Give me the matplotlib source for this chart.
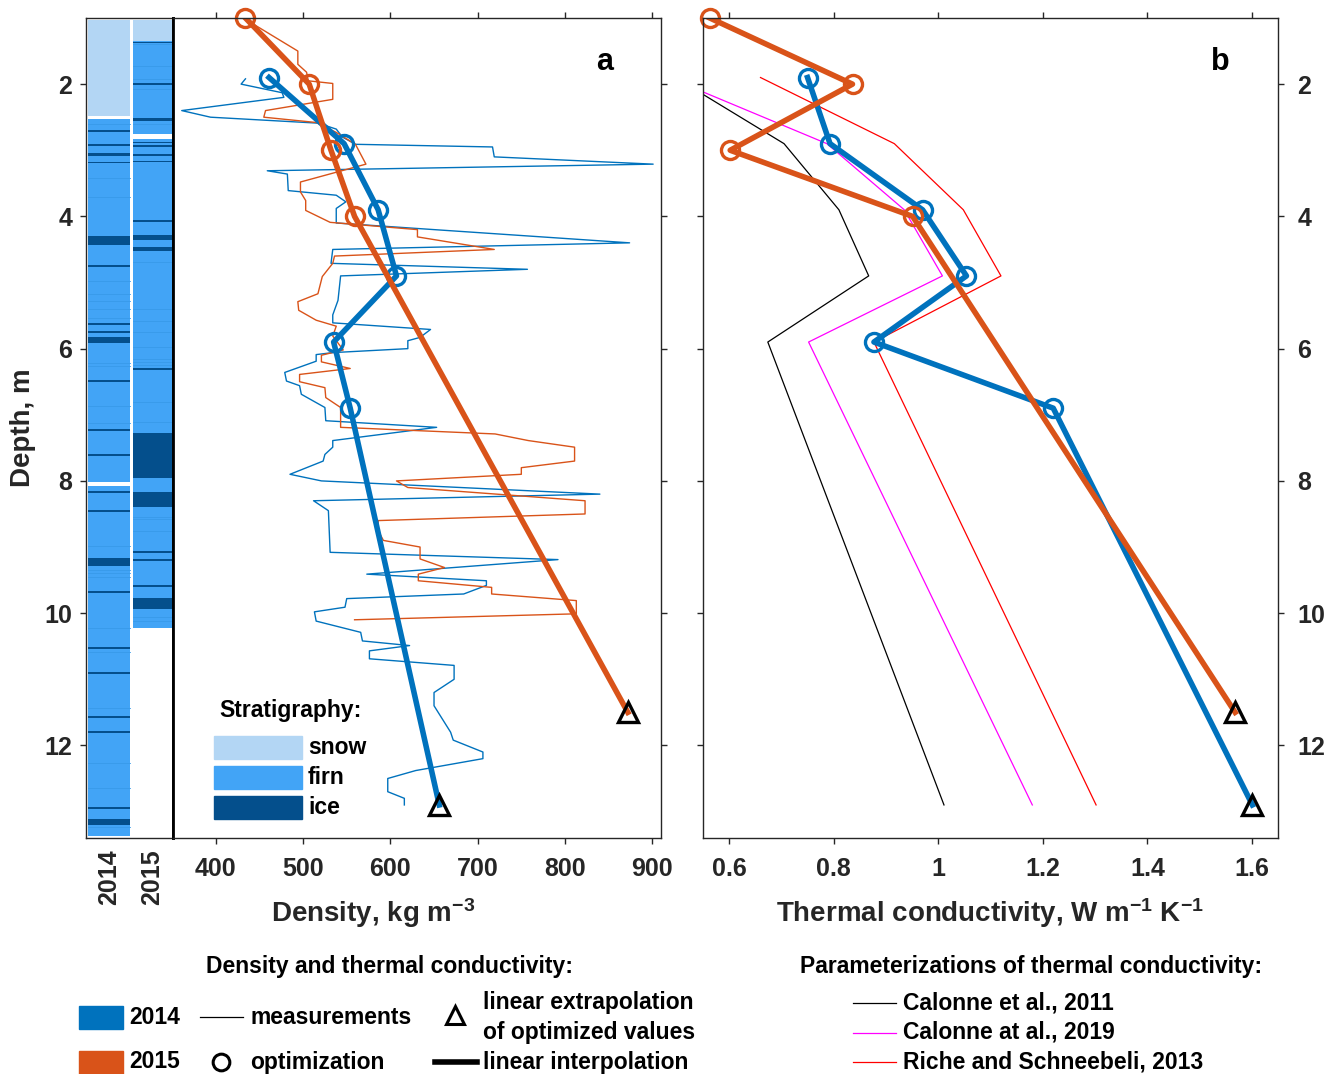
import matplotlib
matplotlib.use('Agg')
import matplotlib.pyplot as plt
from matplotlib.lines import Line2D
from matplotlib.patches import Rectangle

plt.rcParams['font.family'] = ['Liberation Sans', 'DejaVu Sans']
plt.rcParams['font.weight'] = 'bold'
plt.rcParams['axes.labelweight'] = 'bold'
plt.rcParams['mathtext.fontset'] = 'custom'
plt.rcParams['mathtext.rm'] = 'Liberation Sans:bold'
plt.rcParams['mathtext.bf'] = 'Liberation Sans:bold'
plt.rcParams['mathtext.default'] = 'rm'

W, H = 1330, 1074
BLUE = '#0072BD'
ORANGE = '#D95319'
GREY = '#262626'
SNOW_C = '#b3d6f4'
FIRN_C = '#42a4f6'
ICE_C = '#044f8c'
LINE_C = '#389ae9'

# ---- density measurements (depth m, kg m-3) ----
meas14_z = [1.92, 2.00, 2.13, 2.20, 2.40, 2.50, 2.59, 2.68, 2.80, 2.91, 2.95, 3.10, 3.21, 3.31,
            3.36, 3.61, 3.68, 3.78, 3.88, 4.10, 4.40, 4.50, 4.71, 4.80, 4.90, 5.27, 5.49, 5.61,
            5.71, 5.83, 5.88, 6.00, 6.06, 6.09, 6.19, 6.36, 6.49, 6.56, 6.69, 6.89, 7.09, 7.19,
            7.39, 7.49, 7.60, 7.70, 7.90, 8.00, 8.20, 8.30, 8.45, 9.08, 9.19, 9.41, 9.51, 9.58,
            9.71, 9.78, 9.91, 9.98, 10.12, 10.29, 10.42, 10.49, 10.57, 10.69, 10.79, 11.00,
            11.20, 11.40, 11.80, 11.92, 12.10, 12.20, 12.38, 12.50, 12.70, 12.80, 12.90]
meas14_rho = [434, 429, 476, 478, 361, 394, 517, 538, 545, 560, 717, 719, 901, 459,
              482, 483, 538, 549, 538, 538, 874, 534, 532, 757, 543, 540, 534, 534,
              646, 634, 620, 620, 534, 515, 515, 479, 481, 496, 498, 525, 526, 653,
              534, 534, 525, 523, 485, 521, 840, 512, 529, 531, 792, 573, 710, 710,
              684, 550, 548, 513, 515, 566, 568, 622, 576, 576, 673, 673,
              650, 650, 669, 672, 706, 706, 629, 597, 597, 616, 616]

meas15_z = [1.02, 1.50, 1.70, 1.82, 1.95, 1.99, 2.23, 2.40, 2.50, 2.58, 2.73, 2.91, 3.21, 3.48,
            3.63, 3.76, 3.91, 4.09, 4.20, 4.31, 4.50, 4.60, 4.71, 4.91, 5.17, 5.29, 5.42, 5.57,
            5.66, 5.81, 6.02, 6.10, 6.20, 6.30, 6.39, 6.50, 6.59, 6.74, 6.89, 7.19, 7.29, 7.39,
            7.49, 7.70, 7.80, 7.90, 8.00, 8.10, 8.30, 8.50, 8.60, 8.75, 8.90, 9.00, 9.18, 9.31,
            9.41, 9.51, 9.61, 9.71, 9.81, 10.01, 10.10]
meas15_rho = [434, 494, 494, 504, 506, 534, 534, 457, 455, 515, 538, 560, 572, 497,
              497, 503, 503, 531, 631, 631, 719, 536, 534, 522, 517, 494, 495, 515,
              538, 534, 546, 521, 521, 554, 496, 496, 525, 526, 543, 543, 720, 758,
              811, 811, 750, 750, 607, 620, 823, 823, 586, 586, 592, 634, 634, 662,
              632, 632, 716, 716, 813, 813, 559]

# ---- optimized values and linear extrapolation ----
opt14_z = [1.9, 2.9, 3.9, 4.9, 5.9, 6.9]
opt14_rho = [461, 547, 586, 607, 535, 554]
opt14_k = [0.750, 0.793, 0.970, 1.054, 0.877, 1.220]
ext14_z = 12.9
ext14_rho = 656
ext14_k = 1.601

opt15_z = [1.0, 2.0, 3.0, 4.0]
opt15_rho = [434, 507, 532, 559]
opt15_k = [0.563, 0.836, 0.602, 0.951]
ext15_z = 11.5
ext15_rho = 872
ext15_k = 1.568

# ---- parameterizations of thermal conductivity ----
param_z = [1.9, 2.9, 3.9, 4.9, 5.9, 12.9]
calonne2011 = [0.497, 0.705, 0.810, 0.867, 0.674, 1.011]
calonne2019 = [0.484, 0.787, 0.935, 1.008, 0.752, 1.180]
riche2013 = [0.660, 0.916, 1.048, 1.120, 0.877, 1.302]

# ---- stratigraphy (top, bottom depth in m) ----
col14_range = (1.03, 13.37)
snow14 = [(1.03, 2.48)]
ice14 = [(2.70, 2.73), (2.91, 2.94), (3.04, 3.08), (3.17, 3.20), (4.30, 4.44), (4.74, 4.77),
         (5.61, 5.63), (5.73, 5.76), (5.83, 5.91), (6.48, 6.51), (7.21, 7.24), (7.60, 7.62),
         (8.16, 8.19), (8.44, 8.47), (9.16, 9.28), (9.66, 9.69), (10.51, 10.54), (10.89, 10.92),
         (11.55, 11.58), (11.78, 11.81), (12.93, 12.96), (13.12, 13.20)]
gaps14 = [(2.48, 2.53), (8.02, 8.07)]
bounds14 = [2.60, 3.42, 3.70, 4.98, 5.18, 5.28, 5.40, 5.53, 6.21, 6.26, 6.87, 7.12, 8.99,
            9.35, 9.40, 9.45, 10.23, 10.58, 11.43, 12.26, 12.64, 13.24]

col15_range = (1.03, 10.23)
snow15 = [(1.03, 1.35)]
ice15 = [(1.36, 1.38), (1.99, 2.01), (2.51, 2.55), (2.87, 2.89), (2.92, 2.94), (3.06, 3.08),
         (3.16, 3.18), (4.06, 4.08), (4.28, 4.36), (4.47, 4.53), (6.30, 6.32), (7.27, 7.95),
         (8.17, 8.40), (9.06, 9.08), (9.18, 9.20), (9.58, 9.60), (9.77, 9.94)]
gaps15 = [(2.76, 2.83)]
bounds15 = [1.39, 1.72, 1.92, 2.08, 2.61, 4.69, 5.40, 5.58, 5.75, 5.98, 6.16, 6.20, 6.25,
            6.81, 7.11, 8.54, 8.58, 8.76, 10.06, 10.12]

depth_ticks = [2, 4, 6, 8, 10, 12]
rho_ticks = [400, 500, 600, 700, 800, 900]
k_ticks = [0.6, 0.8, 1.0, 1.2, 1.4, 1.6]
k_ticklabels = ['0.6', '0.8', '1', '1.2', '1.4', '1.6']
years = ['2014', '2015']


def fx(px):
    return px / W


def fy(py):
    return 1 - py / H


def style_axes(ax):
    for sp in ax.spines.values():
        sp.set_color(GREY)
        sp.set_linewidth(1.0)
    ax.tick_params(direction='out', length=4, width=1.0, color=GREY,
                   labelcolor=GREY, labelsize=18, pad=10)


fig = plt.figure(figsize=(W / 100, H / 100), dpi=100, facecolor='w')

top_px, bot_px = 18, 838
ax_s = fig.add_axes([fx(86), fy(bot_px), 87 / W, (bot_px - top_px) / H])
ax_a = fig.add_axes([fx(173), fy(bot_px), 488 / W, (bot_px - top_px) / H])
ax_b = fig.add_axes([fx(703), fy(bot_px), 575 / W, (bot_px - top_px) / H])

# ---------------- stratigraphy columns ----------------
style_axes(ax_s)
columns = [(0.05, 0.96, col14_range, snow14, ice14, gaps14, bounds14),
           (1.08, 0.90, col15_range, snow15, ice15, gaps15, bounds15)]
for x0, w, (c_top, c_bot), snow, ice, gaps, bounds in columns:
    ax_s.add_patch(Rectangle((x0, c_top), w, c_bot - c_top, color=FIRN_C, lw=0))
    for b in bounds:
        ax_s.plot([x0, x0 + w], [b, b], color=LINE_C, lw=0.6)
    for t, b in snow:
        ax_s.add_patch(Rectangle((x0, t), w, b - t, color=SNOW_C, lw=0))
    for t, b in ice:
        ax_s.add_patch(Rectangle((x0, t), w, max(b - t, 0.025), color=ICE_C, lw=0))
    for t, b in gaps:
        ax_s.add_patch(Rectangle((x0, t), w, b - t, color='w', lw=0))
ax_s.set_xlim(0, 2)
ax_s.set_ylim(13.4, 1.0)
ax_s.set_yticks(depth_ticks)
ax_s.tick_params(axis='y', pad=6)
ax_s.set_xticks([0.53, 1.53])
ax_s.set_xticklabels(years, rotation=90)
ax_s.tick_params(axis='x', length=0, pad=8)
ax_s.spines['right'].set_color('k')
ax_s.spines['right'].set_linewidth(2.0)
ax_s.set_ylabel('Depth, m', fontsize=20, color=GREY, labelpad=6)

# ---------------- panel a: density ----------------
style_axes(ax_a)
ax_a.plot(meas14_rho, meas14_z, color=BLUE, lw=1.0)
ax_a.plot(meas15_rho, meas15_z, color=ORANGE, lw=1.0)
ax_a.plot(opt14_rho + [ext14_rho], opt14_z + [ext14_z], color=BLUE, lw=4)
ax_a.plot(opt14_rho, opt14_z, 'o', mfc='none', mec=BLUE, ms=13, mew=2.4, clip_on=False)
ax_a.plot(opt15_rho + [ext15_rho], opt15_z + [ext15_z], color=ORANGE, lw=4)
ax_a.plot(opt15_rho, opt15_z, 'o', mfc='none', mec=ORANGE, ms=13, mew=2.4, clip_on=False)
ax_a.plot([ext14_rho, ext15_rho], [ext14_z, ext15_z], '^', mfc='none', mec='k',
          ms=14, mew=2.4, ls='none', clip_on=False)
ax_a.set_xlim(351, 910)
ax_a.set_ylim(13.4, 1.0)
ax_a.set_xticks(rho_ticks)
ax_a.set_yticks(depth_ticks)
ax_a.tick_params(top=True, right=True, left=False, labelleft=False)
ax_a.spines['left'].set_color('k')
ax_a.spines['left'].set_linewidth(2.0)
fig.text(fx(605), fy(62), 'a', fontsize=22, ha='center', va='center')

# stratigraphy legend
fig.text(fx(219), fy(711), 'Stratigraphy:', fontsize=16.5, va='center', ha='left')
for i, (lab, c) in enumerate([('snow', SNOW_C), ('firn', FIRN_C), ('ice', ICE_C)]):
    yc = 747 + 30 * i
    fig.patches.append(Rectangle((fx(214), fy(yc + 11.5)), 88 / W, 23 / H, color=c,
                                 transform=fig.transFigure, figure=fig))
    fig.text(fx(308), fy(yc), lab, fontsize=16.5, va='center', ha='left')

# ---------------- panel b: thermal conductivity ----------------
style_axes(ax_b)
ax_b.plot(calonne2011, param_z, color='k', lw=0.9)
ax_b.plot(calonne2019, param_z, color='#ff00ff', lw=0.9)
ax_b.plot(riche2013, param_z, color='#ff0000', lw=0.9)
ax_b.plot(opt14_k + [ext14_k], opt14_z + [ext14_z], color=BLUE, lw=4)
ax_b.plot(opt14_k, opt14_z, 'o', mfc='none', mec=BLUE, ms=13, mew=2.4, clip_on=False)
ax_b.plot(opt15_k + [ext15_k], opt15_z + [ext15_z], color=ORANGE, lw=4)
ax_b.plot(opt15_k, opt15_z, 'o', mfc='none', mec=ORANGE, ms=13, mew=2.4, clip_on=False)
ax_b.plot([ext14_k, ext15_k], [ext14_z, ext15_z], '^', mfc='none', mec='k',
          ms=14, mew=2.4, ls='none', clip_on=False)
ax_b.set_xlim(0.55, 1.65)
ax_b.set_ylim(13.4, 1.0)
ax_b.set_xticks(k_ticks)
ax_b.set_xticklabels(k_ticklabels)
ax_b.set_yticks(depth_ticks)
ax_b.tick_params(top=True, right=True, left=True, labelleft=False, labelright=True)
fig.text(fx(1220), fy(62), 'b', fontsize=22, ha='center', va='center')

# axis labels
fig.text(fx(373), fy(913), 'Density, kg m$^{-3}$', fontsize=20, ha='center', va='center', color=GREY)
fig.text(fx(990), fy(913), 'Thermal conductivity, W m$^{-1}$ K$^{-1}$', fontsize=20,
         ha='center', va='center', color=GREY)

# ---------------- bottom legend ----------------
fs = 16.5
fig.text(fx(390), fy(966), 'Density and thermal conductivity:', fontsize=fs, ha='center', va='center')
fig.patches.append(Rectangle((fx(79), fy(1029)), 44 / W, 23 / H, color=BLUE,
                             transform=fig.transFigure, figure=fig))
fig.patches.append(Rectangle((fx(79), fy(1074)), 44 / W, 23 / H, color=ORANGE,
                             transform=fig.transFigure, figure=fig))
fig.text(fx(129), fy(1017), years[0], fontsize=fs, va='center')
fig.text(fx(129), fy(1062), years[1], fontsize=fs, va='center')
fig.add_artist(Line2D([fx(200), fx(243)], [fy(1017), fy(1017)], color='k', lw=0.9))
fig.text(fx(250), fy(1017), 'measurements', fontsize=fs, va='center')
fig.add_artist(Line2D([fx(221)], [fy(1062)], marker='o', mfc='none', mec='k', ms=12, mew=2.2))
fig.text(fx(250), fy(1062), 'optimization', fontsize=fs, va='center')
fig.add_artist(Line2D([fx(455)], [fy(1015)], marker='^', mfc='none', mec='k', ms=13, mew=2.2))
fig.text(fx(483), fy(1003), 'linear extrapolation', fontsize=fs, va='center')
fig.text(fx(483), fy(1033), 'of optimized values', fontsize=fs, va='center')
fig.add_artist(Line2D([fx(435), fx(477)], [fy(1062), fy(1062)], color='k', lw=4))
fig.text(fx(483), fy(1062), 'linear interpolation', fontsize=fs, va='center')

fig.text(fx(1031), fy(966), 'Parameterizations of thermal conductivity:', fontsize=fs,
         ha='center', va='center')
for i, (lab, c) in enumerate([('Calonne et al., 2011', 'k'), ('Calonne at al., 2019', '#ff00ff'),
                              ('Riche and Schneebeli, 2013', '#ff0000')]):
    yc = 1003 + 29.5 * i
    fig.add_artist(Line2D([fx(853), fx(896)], [fy(yc), fy(yc)], color=c, lw=0.9))
    fig.text(fx(903), fy(yc), lab, fontsize=fs, va='center')

fig.savefig('out.png', dpi=100, facecolor='w')
